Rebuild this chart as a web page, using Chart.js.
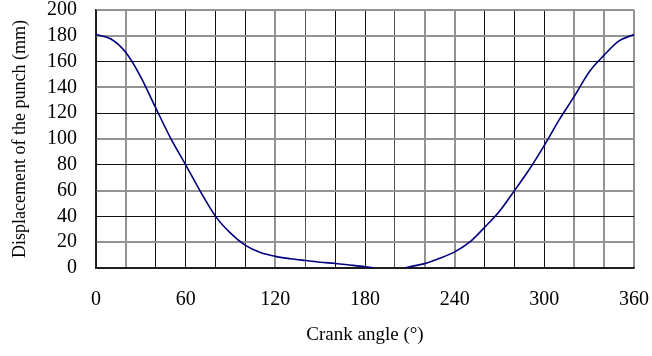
<!DOCTYPE html>
<html>
<head>
<meta charset="utf-8">
<script src="https://cdn.jsdelivr.net/npm/chart.js@4/dist/chart.umd.min.js"></script>
<style>
  body { margin: 0; background: #fff; }
  canvas { display: block; }
</style>
</head>
<body>
<canvas id="punchChart" width="652" height="356"></canvas>
<script>
// crank angle (deg) and punch displacement (mm)
const angles = [0, 10, 20, 30, 40, 50, 60, 70, 80, 90, 100, 110, 120, 130, 140, 150, 160, 170, 180, 186,
  196, 207, 210, 220, 230, 240, 250, 260, 270, 280, 290, 300, 310, 320, 330, 340, 350, 360];
const displacement = [181, 177.5, 167, 148, 124, 100.5, 80, 59, 40, 27, 17.5, 12, 9, 7.2, 5.8, 4.5, 3.5, 2.3, 1, 0,
  null, 0, 1, 3.4, 7.5, 12.5, 20, 31.5, 44, 60, 76.5, 95, 115, 133, 152, 165, 176, 181];
const xTickLabels = [0, 60, 120, 180, 240, 300, 360];

// grid lines that look lighter in the picture
const lightX = [20, 120, 220, 240, 320, 340, 360];
const midX = [140, 200];
const lightY = [20, 60, 100, 140, 180, 200];

const points = angles.map((a, i) => ({ x: a, y: displacement[i] }));
const serif = 'Liberation Serif';

function xGridColor(ctx) {
  const v = ctx.tick ? ctx.tick.value : 0;
  if (lightX.includes(v)) return '#939393';
  if (midX.includes(v)) return '#555';
  return '#111';
}
function xGridWidth(ctx) {
  const v = ctx.tick ? ctx.tick.value : 0;
  return lightX.includes(v) ? 2 : 1;
}
function yGridColor(ctx) {
  const v = ctx.tick ? ctx.tick.value : 0;
  return lightY.includes(v) ? '#939393' : '#111';
}
function yGridWidth(ctx) {
  const v = ctx.tick ? ctx.tick.value : 0;
  return lightY.includes(v) ? 2 : 1;
}

new Chart(document.getElementById('punchChart').getContext('2d'), {
  type: 'line',
  data: {
    datasets: [{
      data: points,
      borderColor: '#00007f',
      borderWidth: 1.6,
      pointRadius: 0,
      cubicInterpolationMode: 'monotone',
      spanGaps: false,
      fill: false
    }]
  },
  options: {
    responsive: false,
    animation: false,
    layout: { padding: 0 },
    plugins: { legend: { display: false }, tooltip: { enabled: false } },
    scales: {
      x: {
        type: 'linear',
        min: 0,
        max: 360,
        afterFit: s => {
          s.height = 88;
          s.paddingLeft = 0;
          s.paddingRight = 18;
        },
        ticks: {
          stepSize: 20,
          autoSkip: false,
          maxRotation: 0,
          padding: 20,
          color: '#000',
          font: { family: serif, size: 20 },
          callback: v => xTickLabels.includes(v) ? v : ''
        },
        grid: { color: xGridColor, lineWidth: xGridWidth, drawTicks: false },
        border: { color: '#222', width: 1.5 },
        title: {
          display: true,
          text: 'Crank angle (°)',
          color: '#000',
          font: { family: serif, size: 19 },
          padding: { top: 10, bottom: 10 }
        }
      },
      y: {
        min: 0,
        max: 200,
        afterFit: s => {
          s.width = 96;
          s.paddingTop = 10;
          s.paddingBottom = 0;
        },
        ticks: {
          stepSize: 20,
          autoSkip: false,
          padding: 19,
          color: '#000',
          font: { family: serif, size: 20 }
        },
        grid: { color: yGridColor, lineWidth: yGridWidth, drawTicks: false },
        border: { color: '#222', width: 1.5 },
        title: {
          display: true,
          text: 'Displacement of the punch (mm)',
          color: '#000',
          font: { family: serif, size: 18 },
          padding: { top: 9, bottom: 0 }
        }
      }
    }
  }
});
</script>
</body>
</html>
